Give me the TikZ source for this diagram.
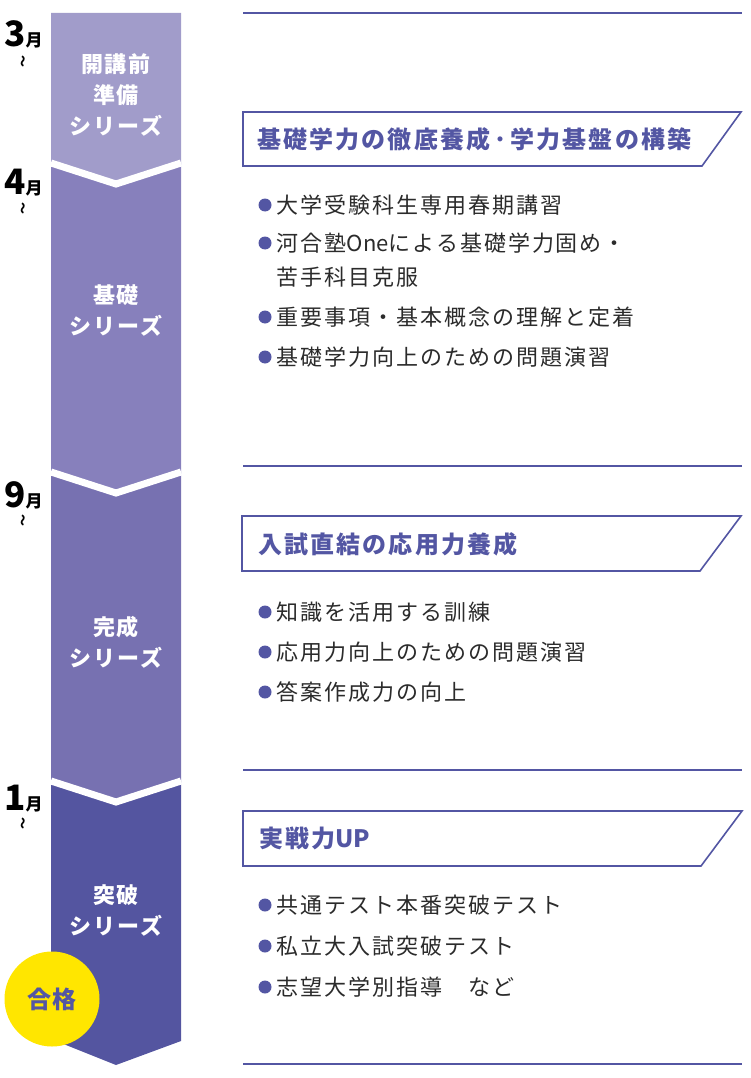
\documentclass[tikz,border=0pt]{standalone}
\usepackage{fontspec}
\setmainfont{Noto Sans CJK JP}
\usetikzlibrary{positioning}
\definecolor{segone}{HTML}{A19CCA}
\definecolor{segtwo}{HTML}{8780BC}
\definecolor{segthree}{HTML}{7771B1}
\definecolor{segfour}{HTML}{5455A0}
\definecolor{lineblue}{HTML}{5356A3}
\definecolor{textgray}{HTML}{2B2B2B}
\definecolor{passyellow}{HTML}{FFE600}
\newcommand{\tight}[1]{{\addfontfeature{LetterSpace=0}#1}}

\begin{document}
\begin{tikzpicture}[x=1pt, y=-1pt,
    month/.style={anchor=base west, inner sep=0pt, font=\bfseries},
    wave/.style={rotate=90, inner sep=0pt, font=\bfseries\fontsize{12}{12}\selectfont},
    phase/.style={text=white, align=center, inner sep=0pt,
      font=\bfseries\fontsize{22}{31}\selectfont\addfontfeature{LetterSpace=8}},
    sep/.style={white, line width=7pt},
    rule/.style={lineblue, line width=1.6pt},
    banner/.style={draw=lineblue, line width=1.6pt},
    heading/.style={anchor=west, inner sep=0pt, text=lineblue,
      font=\bfseries\fontsize{24}{24}\selectfont\addfontfeature{LetterSpace=9}},
    dot/.style={circle, fill=lineblue, inner sep=0pt, minimum size=13pt},
    item/.style={anchor=west, inner sep=0pt, text=textgray,
      font=\fontsize{22}{22}\selectfont\addfontfeature{LetterSpace=9}}]
  \useasboundingbox (0,0) rectangle (750,1078);

  % Column of series
  \fill[segone] (51,13) -- (181,13) -- (181,163) -- (116,184) -- (51,163) -- cycle;
  \fill[segtwo] (51,163) -- (116,184) -- (181,163) -- (181,472) -- (116,494) -- (51,472) -- cycle;
  \fill[segthree] (51,472) -- (116,494) -- (181,472) -- (181,781) -- (116,802) -- (51,781) -- cycle;
  \fill[segfour] (51,781) -- (116,802) -- (181,781) -- (181,1041) -- (116,1065) -- (51,1039) -- cycle;
  \foreach \y in {163,472,781}
    \draw[sep] (51,\y) -- (116,\y+21) -- (181,\y);

  \node[phase] (prep) at (116,95) {開講前\\準備\\シリーズ};
  \node[phase] (basic) at (116,310) {基礎\\シリーズ};
  \node[phase] (finish) at (116,642) {完成\\シリーズ};
  \node[phase] (break) at (116,910) {突破\\シリーズ};

  % Months
  \node[month] (m3) at (4,47) {\fontsize{35}{35}\selectfont 3\fontsize{17}{17}\selectfont 月};
  \node[wave] (w3) at (24,62) {～};
  \node[month] (m4) at (4,194) {\fontsize{35}{35}\selectfont 4\fontsize{17}{17}\selectfont 月};
  \node[wave] (w4) at (24,208) {～};
  \node[month] (m9) at (4,507) {\fontsize{35}{35}\selectfont 9\fontsize{17}{17}\selectfont 月};
  \node[wave] (w9) at (24,520) {～};
  \node[month] (m1) at (4,810) {\fontsize{35}{35}\selectfont 1\fontsize{17}{17}\selectfont 月};
  \node[wave] (w1) at (24,823) {～};

  % Pass badge
  \node[circle, fill=passyellow, minimum size=95pt, inner sep=0pt, text=lineblue,
    font=\bfseries\fontsize{24}{24}\selectfont\addfontfeature{LetterSpace=5}] (pass) at (52,999) {合格};

  % Rules
  \foreach \y in {13,466,770,1064}
    \draw[rule] (243,\y) -- (742,\y);

  % Basic stage
  \draw[banner] (243,112) -- (741,112) -- (702,166) -- (243,166) -- cycle;
  \node[heading] (h1) at (257,139) {基礎学力の徹底養成\kern4pt･\kern4pt 学力基盤の構築};
  \node[dot] (d1a) at (265,205) {};
  \node[item, right=5pt of d1a] (b1a) {大学受験科生専用春期講習};
  \node[dot] (d1b) at (265,243) {};
  \node[item, right=5pt of d1b] (b1b) {河合塾\tight{One}による基礎学力固め・};
  \node[item] (b1c) at (b1b.west |- 0,277) {苦手科目克服};
  \node[dot] (d1d) at (265,317) {};
  \node[item, right=5pt of d1d] (b1d) {重要事項・基本概念の理解と定着};
  \node[dot] (d1e) at (265,357) {};
  \node[item, right=5pt of d1e] (b1e) {基礎学力向上のための問題演習};

  % Completion stage
  \draw[banner] (242,516) -- (741,516) -- (700,571) -- (242,571) -- cycle;
  \node[heading] (h2) at (258,544) {入試直結の応用力養成};
  \node[dot] (d2a) at (265,612) {};
  \node[item, right=5pt of d2a] (b2a) {知識を活用する訓練};
  \node[dot] (d2b) at (265,652) {};
  \node[item, right=5pt of d2b] (b2b) {応用力向上のための問題演習};
  \node[dot] (d2c) at (265,692) {};
  \node[item, right=5pt of d2c] (b2c) {答案作成力の向上};

  % Breakthrough stage
  \draw[banner] (243,811) -- (742,811) -- (701,866) -- (243,866) -- cycle;
  \node[heading] (h3) at (259,838) {実戦力\tight{UP}};
  \node[dot] (d3a) at (265,905) {};
  \node[item, right=5pt of d3a] (b3a) {共通テスト本番突破テスト};
  \node[dot] (d3b) at (265,946) {};
  \node[item, right=5pt of d3b] (b3b) {私立大入試突破テスト};
  \node[dot] (d3c) at (265,987) {};
  \node[item, right=5pt of d3c] (b3c) {志望大学別指導　など};
\end{tikzpicture}
\end{document}
